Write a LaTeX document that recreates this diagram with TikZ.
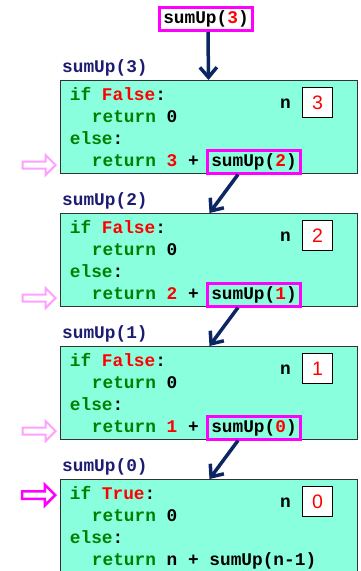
\documentclass[tikz,border=0pt]{standalone}
\usepackage{fontspec}
\setmonofont{Liberation Mono}
\newfontfamily\valfont{Liberation Sans}
\usetikzlibrary{arrows.meta,shapes.arrows}
\definecolor{framefill}{RGB}{138,255,222}
\definecolor{kwgreen}{RGB}{0,128,0}
\definecolor{callnavy}{RGB}{12,38,100}
\definecolor{lblnavy}{RGB}{28,28,115}
\definecolor{hilite}{RGB}{255,0,255}
\definecolor{palepink}{RGB}{255,160,255}
\newcommand{\kwd}[1]{\textcolor{kwgreen}{#1}}
\newcommand{\argv}[1]{\textcolor{red}{#1}}
\tikzset{
  codefont/.style={font=\fontsize{17.8}{20}\selectfont\ttfamily\bfseries},
  code/.style={codefont, anchor=base west, inner sep=0pt},
  head/.style={code, text=lblnavy},
  framebox/.style={draw=black!80, line width=1pt, fill=framefill, anchor=north west,
    minimum width=297pt, minimum height=93pt, inner sep=0pt},
  callbox/.style={codefont, draw=hilite, line width=3pt, anchor=base, inner sep=0pt,
    text height=13pt, text depth=4pt, minimum width=93pt, minimum height=23pt},
  nbox/.style={draw=black, line width=0.8pt, fill=white, minimum size=30pt, inner sep=0pt,
    font=\valfont\fontsize{19.5}{19.5}\selectfont, text=red},
  calls/.style={draw=callnavy, line width=3.5pt, -{Straight Barb[length=10pt,width=17pt]}},
  ptr/.style={shape=single arrow, inner sep=0pt, text height=5pt, text depth=0pt,
    single arrow head extend=6.5pt, minimum height=33pt, anchor=tip, fill=white, line width=2pt},
  ptrpale/.style={ptr, draw=palepink},
  ptrhot/.style={ptr, draw=hilite, line width=2.5pt}
}
\begin{document}
\begin{tikzpicture}[x=1pt,y=-1pt]
  \useasboundingbox (0,0) rectangle (360,571);

  % first call
  \node[callbox] (t) at (206,23.5) {sumUp(\argv{3})};

  % frame for n = 3
  \node[head] (h3) at (62,72) {sumUp(3)};
  \node[framebox] (f3) at (60,80) {};
  \node[code] (f3a) at (69.7,100) {\kwd{if} \argv{False}:};
  \node[code] (f3b) at (91.7,122) {\kwd{return} 0};
  \node[code] (f3c) at (69.7,144) {\kwd{else}:};
  \node[code] (f3d) at (91.7,166) {\kwd{return} \argv{3} +};
  \node[code] (n3lbl) at (280,108) {n};
  \node[nbox] (n3) at (317.5,102.5) {3};
  \node[callbox] (c2) at (254,166) {sumUp(\argv{2})};
  \node[ptrpale] (p3) at (57,165) {};

  % frame for n = 2
  \node[head] (h2) at (62,205) {sumUp(2)};
  \node[framebox] (f2) at (60,213) {};
  \node[code] (f2a) at (69.7,233) {\kwd{if} \argv{False}:};
  \node[code] (f2b) at (91.7,255) {\kwd{return} 0};
  \node[code] (f2c) at (69.7,277) {\kwd{else}:};
  \node[code] (f2d) at (91.7,299) {\kwd{return} \argv{2} +};
  \node[code] (n2lbl) at (280,241) {n};
  \node[nbox] (n2) at (317.5,235.5) {2};
  \node[callbox] (c1) at (254,299) {sumUp(\argv{1})};
  \node[ptrpale] (p2) at (57,298) {};

  % frame for n = 1
  \node[head] (h1) at (62,338) {sumUp(1)};
  \node[framebox] (f1) at (60,346) {};
  \node[code] (f1a) at (69.7,366) {\kwd{if} \argv{False}:};
  \node[code] (f1b) at (91.7,388) {\kwd{return} 0};
  \node[code] (f1c) at (69.7,410) {\kwd{else}:};
  \node[code] (f1d) at (91.7,432) {\kwd{return} \argv{1} +};
  \node[code] (n1lbl) at (280,374) {n};
  \node[nbox] (n1) at (317.5,368.5) {1};
  \node[callbox] (c0) at (254,432) {sumUp(\argv{0})};
  \node[ptrpale] (p1) at (57,431) {};

  % frame for n = 0
  \node[head] (h0) at (62,471) {sumUp(0)};
  \node[framebox] (f0) at (60,479) {};
  \node[code] (f0a) at (69.7,499) {\kwd{if} \argv{True}:};
  \node[code] (f0b) at (91.7,521) {\kwd{return} 0};
  \node[code] (f0c) at (69.7,543) {\kwd{else}:};
  \node[code] (f0d) at (91.7,565) {\kwd{return} n + sumUp(n-1)};
  \node[code] (n0lbl) at (280,507) {n};
  \node[nbox] (n0) at (317.5,501.5) {0};
  \node[ptrhot] (p0) at (57,495) {};

  % calls
  \coordinate (in3) at (208.5,80);
  \coordinate (in2) at (209.5,213);
  \coordinate (in1) at (209.5,346);
  \coordinate (in0) at (209.5,479);
  \draw[calls] ([xshift=2pt]t.south) -- (in3);
  \draw[calls] ([xshift=-16pt]c2.south) -- (in2);
  \draw[calls] ([xshift=-16pt]c1.south) -- (in1);
  \draw[calls] ([xshift=-16pt]c0.south) -- (in0);
\end{tikzpicture}
\end{document}
